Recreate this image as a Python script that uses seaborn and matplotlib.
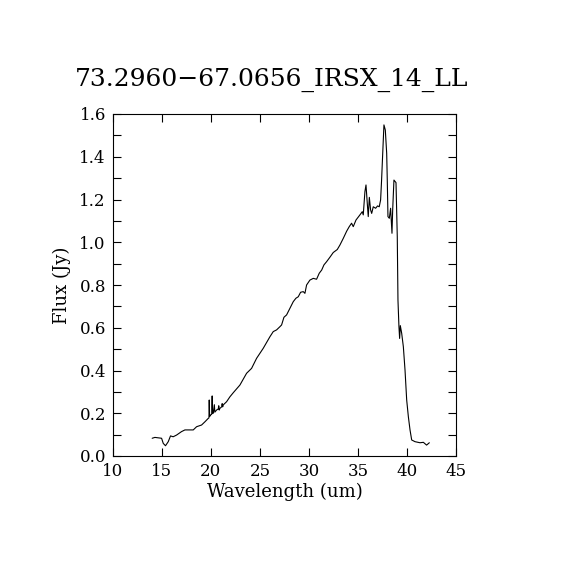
import matplotlib
matplotlib.use("Agg")
import matplotlib.pyplot as plt
import seaborn as sns
import numpy as np
import pandas as pd
from matplotlib.ticker import MultipleLocator, FuncFormatter

title = "73.2960\u221267.0656_IRSX_14_LL"
xlabel = "Wavelength (um)"
ylabel = "Flux (Jy)"

wavelength = [14.01, 14.29, 14.97, 15.14, 15.37, 15.65, 15.88, 16.15, 16.5, 17.0,
              17.35, 18.2, 18.54, 19.05, 19.39, 19.73, 19.80, 19.83, 19.87, 19.97,
              20.08, 20.13, 20.17, 20.24, 20.35, 20.4, 20.58, 20.75, 20.8, 20.85,
              20.92, 21.1, 21.15, 21.2, 21.26, 21.6, 21.94, 22.28, 22.96, 23.64,
              24.15, 24.66, 25.34, 26.02, 26.36, 26.7, 27.04, 27.21, 27.45, 27.72,
              28.06, 28.4, 28.67, 28.91, 29.15, 29.42, 29.59, 29.76, 30.1, 30.44,
              30.78, 31.05, 31.3, 31.53, 31.8, 32.14, 32.48, 32.89, 33.16, 33.5,
              33.85, 34.11, 34.35, 34.52, 34.8, 35.2, 35.44, 35.54, 35.71, 35.82,
              35.95, 36.05, 36.16, 36.29, 36.4, 36.56, 36.8, 37.0, 37.17, 37.31,
              37.41, 37.51, 37.65, 37.79, 37.93, 37.99, 38.06, 38.2, 38.33, 38.47,
              38.54, 38.67, 38.88, 39.01, 39.08, 39.18, 39.25, 39.32, 39.46, 39.63,
              39.8, 39.97, 40.14, 40.31, 40.48, 40.82, 41.33, 41.67, 42.0, 42.28]
flux = [0.083, 0.087, 0.083, 0.059, 0.048, 0.067, 0.094, 0.090, 0.098, 0.114,
        0.122, 0.122, 0.137, 0.145, 0.16, 0.176, 0.178, 0.262, 0.185, 0.192,
        0.195, 0.281, 0.2, 0.2, 0.24, 0.205, 0.215, 0.22, 0.235, 0.215,
        0.223, 0.23, 0.245, 0.23, 0.239, 0.254, 0.277, 0.296, 0.332, 0.387,
        0.41, 0.457, 0.504, 0.558, 0.582, 0.59, 0.605, 0.613, 0.649, 0.66,
        0.691, 0.722, 0.738, 0.745, 0.766, 0.769, 0.761, 0.8, 0.823, 0.831,
        0.827, 0.855, 0.87, 0.894, 0.909, 0.93, 0.952, 0.966, 0.987, 1.018,
        1.052, 1.073, 1.089, 1.073, 1.104, 1.128, 1.143, 1.128, 1.237, 1.268,
        1.182, 1.12, 1.21, 1.151, 1.135, 1.166, 1.159, 1.17, 1.166, 1.198,
        1.291, 1.40, 1.549, 1.525, 1.416, 1.291, 1.12, 1.112, 1.159, 1.042,
        1.15, 1.291, 1.279, 1.026, 0.73, 0.605, 0.55, 0.61, 0.574, 0.511,
        0.402, 0.262, 0.184, 0.122, 0.075, 0.067, 0.062, 0.064, 0.051, 0.062]

xticks = [10, 15, 20, 25, 30, 35, 40, 45]

sns.set_theme(style="white")
plt.rcParams['font.family'] = ['DejaVu Serif']

df = pd.DataFrame({"wl": wavelength, "flux": flux})

fig = plt.figure(figsize=(5.7, 5.7), dpi=100)
ax = fig.add_axes([0.198, 0.2, 0.602, 0.6])
sns.lineplot(data=df, x="wl", y="flux", sort=False, estimator=None,
             color="black", linewidth=0.8, ax=ax)

ax.set_xlim(10, 45)
ax.set_ylim(0, 1.6)
ax.set_xticks(xticks)
ax.yaxis.set_major_locator(MultipleLocator(0.1))
ax.yaxis.set_major_formatter(FuncFormatter(
    lambda v, p: f"{v:.1f}" if round(v * 10) % 2 == 0 else ""))
ax.tick_params(axis="both", which="both", direction="in", length=6, width=0.8,
               top=True, right=True, bottom=True, left=True, labelsize=12,
               colors="black", pad=5)
for s in ax.spines.values():
    s.set_color("black")
    s.set_linewidth(0.8)
ax.set_xlabel(xlabel, fontsize=13, color="black", labelpad=2)
ax.set_ylabel(ylabel, fontsize=13, color="black", labelpad=6)
fig.text(0.477, 1 - 80 / 570, title, fontsize=18, color="black",
         ha="center", va="center")
fig.patch.set_facecolor("white")
fig.savefig("out.png", dpi=100, facecolor="white")
